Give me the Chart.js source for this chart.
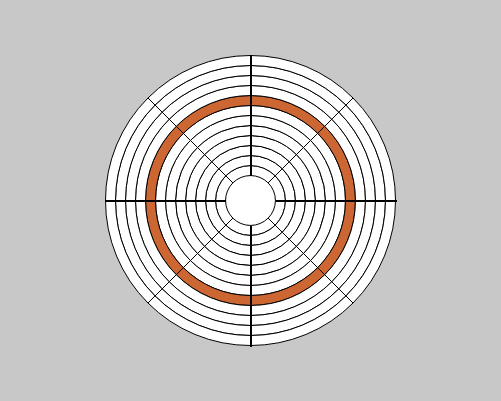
<!DOCTYPE html>
<html>
<head>
<meta charset="utf-8">
<script src="https://cdn.jsdelivr.net/npm/chart.js@4/dist/chart.umd.min.js"></script>
<style>
  html, body { margin: 0; padding: 0; background: #c8c8c8; }
  #wrap { width: 501px; height: 401px; }
</style>
</head>
<body>
<div id="wrap"><canvas id="ringChart" width="501" height="401"></canvas></div>
<script>
// 8 equal sectors per ring, 12 rings (outermost first)
const sectors = ['N', 'NE', 'E', 'SE', 'S', 'SW', 'W', 'NW'];
const sectorValues = [1, 1, 1, 1, 1, 1, 1, 1];
const ringNames = ['R1', 'R2', 'R3', 'R4', 'R5', 'R6', 'R7', 'R8', 'R9', 'R10', 'R11', 'R12'];
const ringColors = ['#ffffff', '#ffffff', '#ffffff', '#ffffff', '#cc6633', '#ffffff',
                    '#ffffff', '#ffffff', '#ffffff', '#ffffff', '#ffffff', '#ffffff'];

// white centre + heavier N/E/S/W axes
const axesPlugin = {
    id: 'axes',
    beforeDatasetsDraw(chart) {
        const inner = chart.getDatasetMeta(chart.data.datasets.length - 1).data[0];
        const c = chart.ctx;
        c.save();
        c.fillStyle = '#ffffff';
        c.beginPath();
        c.arc(inner.x, inner.y, inner.innerRadius, 0, Math.PI * 2);
        c.fill();
        c.restore();
    },
    afterDatasetsDraw(chart) {
        const outer = chart.getDatasetMeta(0).data[0];
        const inner = chart.getDatasetMeta(chart.data.datasets.length - 1).data[0];
        const x = Math.round(outer.x), y = Math.round(outer.y);
        const r0 = inner.innerRadius, r1 = outer.outerRadius + 1;
        const c = chart.ctx;
        c.save();
        c.strokeStyle = '#000000';
        c.lineWidth = 2;
        c.beginPath();
        c.moveTo(x, y - r0); c.lineTo(x, y - r1);
        c.moveTo(x, y + r0); c.lineTo(x, y + r1);
        c.moveTo(x - r0, y); c.lineTo(x - r1, y);
        c.moveTo(x + r0, y); c.lineTo(x + r1, y);
        c.stroke();
        c.restore();
    }
};

const ctx = document.getElementById('ringChart').getContext('2d');
const ringChart = new Chart(ctx, {
    type: 'doughnut',
    data: {
        labels: sectors,
        datasets: ringNames.map((name, i) => ({
            label: name,
            data: sectorValues,
            backgroundColor: ringColors[i],
            borderColor: '#000000',
            borderWidth: 1
        }))
    },
    options: {
        responsive: false,
        animation: false,
        radius: 145,
        cutout: '17.2%',
        plugins: { legend: { display: false }, tooltip: { enabled: false } }
    },
    plugins: [axesPlugin]
});
</script>
</body>
</html>
